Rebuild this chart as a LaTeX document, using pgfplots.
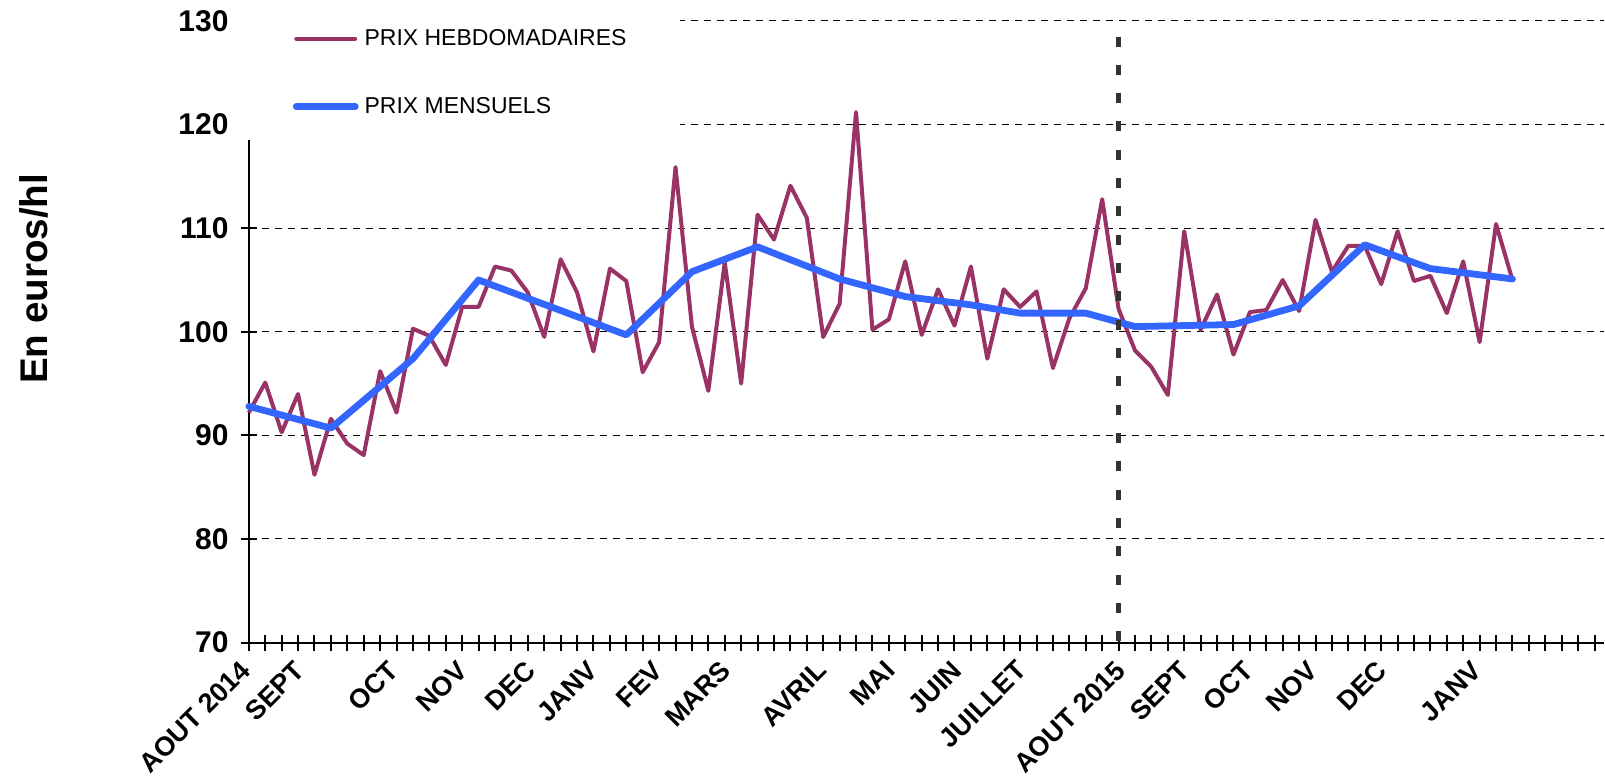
\documentclass[border=0pt]{standalone}
\usepackage{fontspec}
\setmainfont{Liberation Sans}
\usepackage{pgfplots}
\pgfplotsset{compat=1.18}
\definecolor{prixh}{HTML}{993366}
\definecolor{prixm}{HTML}{3366FF}
\definecolor{vline}{HTML}{333333}
\begin{document}
\begin{tikzpicture}
\path (0,0) rectangle (802.5pt,389.5pt);
\begin{axis}[
  at={(124.5pt,68pt)}, anchor=south west,
  scale only axis, width=678pt, height=311pt,
  xmin=0, xmax=82.58, ymin=70, ymax=130,
  axis x line*=bottom, axis y line*=left,
  axis line style={line width=1pt, -},
  clip=false,
  xtick={0,...,82}, xticklabels={},
  extra x ticks={0,3.3,9.0,13.2,17.35,21.15,25.15,29.25,35.1,39.3,43.35,47.3,53.3,57.2,61.1,65.0,69.25,75.0},
  extra x tick labels={AOUT 2014,SEPT,OCT,NOV,DEC,JANV,FEV,MARS,AVRIL,MAI,JUIN,JUILLET,AOUT 2015,SEPT,OCT,NOV,DEC,JANV},
  extra x tick style={major tick length=0pt},
  x tick label style={xshift=-5pt, rotate=45, anchor=north east, inner sep=0pt, font=\bfseries\fontsize{13.5}{16}\selectfont},
  xticklabel shift=8pt,
  ytick={70,80,...,130},
  y tick label style={anchor=east, inner sep=0pt, font=\bfseries\fontsize{15}{17}\selectfont},
  yticklabel shift=6pt,
  /pgf/number format/assume math mode=true,
  tick align=center,
  major tick length=8pt,
  tick style={line width=1pt, black},
  ymajorgrids, grid style={black, line width=0.5pt, dash pattern=on 3.5pt off 3pt},
  ylabel={En euros/hl},
  ylabel style={at={(rel axis cs:-0.1585,0.585)}, anchor=center, font=\bfseries\fontsize{19.3}{22}\selectfont},
  legend style={at={(rel axis cs:0.0322,0.9875)}, anchor=north west, draw=none, fill=none,
    inner sep=0pt, row sep=24.5pt, nodes={inner sep=0pt},
    font=\fontsize{11.5}{13}\selectfont,
    /tikz/every odd column/.append style={column sep=3pt}},
  legend cell align=left,
  legend image code/.code={\draw[#1, line cap=round] (0pt,0pt) -- (29.5pt,0pt);},
]
\addplot[prixh, line width=2pt, line join=round] coordinates {
(0,92.2) (1,95.1) (2,90.3) (3,94.0) (4,86.2) (5,91.6) (6,89.2) (7,88.1) (8,96.2) (9,92.2)
(10,100.3) (11,99.6) (12,96.8) (13,102.4) (14,102.4) (15,106.3) (16,105.9) (17,103.8) (18,99.5) (19,107.0)
(20,103.8) (21,98.1) (22,106.1) (23,104.9) (24,96.1) (25,99.0) (26,115.9) (27,100.5) (28,94.3) (29,106.7)
(30,95.0) (31,111.3) (32,108.9) (33,114.1) (34,111.0) (35,99.5) (36,102.7) (37,121.2) (38,100.2) (39,101.2)
(40,106.8) (41,99.7) (42,104.1) (43,100.6) (44,106.3) (45,97.4) (46,104.1) (47,102.4) (48,103.9) (49,96.5)
(50,101.3) (51,104.2) (52,112.8) (53,102.2) (54,98.2) (55,96.6) (56,93.9) (57,109.7) (58,100.2) (59,103.6)
(60,97.8) (61,101.9) (62,102.1) (63,105.0) (64,102.0) (65,110.8) (66,105.8) (67,108.3) (68,108.3) (69,104.6)
(70,109.7) (71,104.9) (72,105.4) (73,101.8) (74,106.8) (75,99.0) (76,110.4) (77,105.0)
};
\addplot[prixm, line width=3.4pt, line join=round, line cap=round] coordinates {
(0,92.8) (5,90.7) (10,97.4) (14,105.0) (23,99.7) (27,105.8) (31,108.2) (36,105.1) (40,103.4)
(44,102.6) (47,101.8) (51,101.8) (54,100.5) (60,100.7) (64,102.5) (68,108.4) (72,106.1) (77,105.1)
};
\addplot[vline, line width=2.5pt, dash pattern=on 5pt off 9.17pt, forget plot] coordinates {(53,128.5) (53,70)};
\fill[white] (rel axis cs:-0.0059,0.8087) rectangle (rel axis cs:0.3178,1.0322);
\legend{PRIX HEBDOMADAIRES, PRIX MENSUELS}
\end{axis}
\end{tikzpicture}
\end{document}
